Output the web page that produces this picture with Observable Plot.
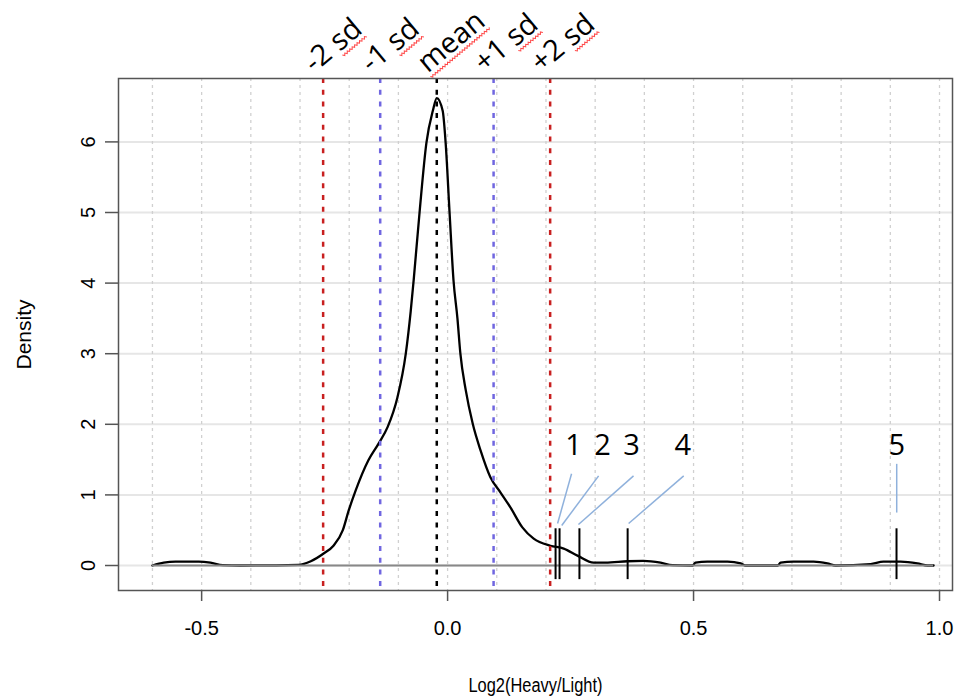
<!DOCTYPE html>
<html><head><meta charset="utf-8">
<script src="https://cdn.jsdelivr.net/npm/d3@7"></script>
<script src="https://cdn.jsdelivr.net/npm/@observablehq/plot@0.6"></script>
<style>body{margin:0;background:#fff}</style>
</head><body><div id="chart"></div>
<script>
// density curve
const curveX = [-0.600,-0.577,-0.553,-0.506,-0.482,-0.457,-0.421,-0.303,-0.278,-0.252,-0.232,-0.213,-0.201,-0.187,-0.161,-0.140,-0.122,-0.102,-0.085,-0.075,-0.069,-0.057,-0.043,-0.030,-0.022,-0.010,-0.004,0.004,0.012,0.020,0.026,0.037,0.051,0.067,0.087,0.108,0.128,0.152,0.175,0.209,0.236,0.264,0.297,0.321,0.366,0.398,0.433,0.457,0.498,0.504,0.528,0.569,0.596,0.606,0.671,0.677,0.703,0.744,0.772,0.789,0.860,0.886,0.921,0.955,0.976,0.988];
const curveY = [0,0.04,0.055,0.055,0.04,0.005,0,0.01,0.06,0.17,0.28,0.50,0.78,1.06,1.49,1.73,1.96,2.38,3.0,3.6,4.04,5.0,5.99,6.44,6.62,6.44,5.99,5.0,4.04,3.5,3.0,2.48,2.01,1.63,1.25,1.03,0.82,0.54,0.38,0.28,0.24,0.14,0.04,0.04,0.06,0.065,0.04,0.005,0,0.04,0.055,0.055,0.03,0,0,0.04,0.055,0.055,0.03,0,0.02,0.055,0.055,0.03,0,0];

// mean and sd reference lines
const refNames = ["-2 sd","-1 sd","mean","+1 sd","+2 sd"];
const refValues = [-0.253,-0.137,-0.022,0.0935,0.2085];
const refColors = ["#c82020","#7066e0","#000000","#7066e0","#c82020"];

// marked outliers
const spikeX = [0.2195,0.2276,0.268,0.366,0.9126];
const spikeLow = -0.2, spikeHigh = 0.52;
const labelNames = ["1","2","3","4","5"];
const labelX = [0.256,0.315,0.374,0.478,0.913];
const labelY = [1.69,1.69,1.69,1.69,1.69];
const leaderTopX = [0.252,0.307,0.378,0.480,0.913];
const leaderTopY = [1.30,1.27,1.27,1.27,1.44];
const leaderEndX = [0.2236,0.232,0.266,0.368,0.913];
const leaderEndY = [0.595,0.567,0.58,0.595,0.75];

const xTicks = [-0.5,0,0.5,1.0];
const yTicks = [0,1,2,3,4,5,6];
const xGrid = d3.range(-6,11).map(d => d/10);
const xTitle = "Log2(Heavy/Light)";
const yTitle = "Density";

const curve = curveX.map((x,i) => ({x, y: curveY[i]}));
const refs = refNames.map((n,i) => ({name:n, x:refValues[i], color:refColors[i]}));
const labels = labelNames.map((n,i) => ({name:n, x:labelX[i], y:labelY[i]}));
const leaders = leaderTopX.map((x,i) => ({x1:x, y1:leaderTopY[i], x2:leaderEndX[i], y2:leaderEndY[i]}));

const axisFont = "Liberation Sans, Arial, sans-serif";
const noteFont = "Open Sans, sans-serif";

const chart = Plot.plot({
  width: 955, height: 700,
  marginLeft: 118, marginRight: 3, marginTop: 78, marginBottom: 110,
  x: {domain: [-0.669, 1.0264]},
  y: {domain: [-0.354, 6.898]},
  style: {fontFamily: axisFont, background: "#fff"},
  marks: [
    Plot.ruleY(yTicks, {stroke: "#e6e6e6", strokeWidth: 2}),
    Plot.ruleX(xGrid, {stroke: "#d0d0d0", strokeWidth: 1.3, strokeDasharray: "3,4"}),
    Plot.line(curve, {x: "x", y: "y", stroke: "black", strokeWidth: 2.3, curve: "monotone-x"}),
    Plot.ruleY([0], {x1: d3.min(curveX), x2: d3.max(curveX), stroke: "#888", strokeWidth: 2}),
    Plot.ruleX(refs, {x: "x", stroke: "color", strokeWidth: 2.5, strokeDasharray: "5,6.7"}),
    Plot.ruleX(spikeX, {x: d => d, y1: spikeLow, y2: spikeHigh, stroke: "black", strokeWidth: 2}),
    Plot.link(leaders, {x1: "x1", y1: "y1", x2: "x2", y2: "y2", stroke: "#8fb1dc", strokeWidth: 1.5}),
    Plot.text(labels, {x: "x", y: "y", text: "name", fontSize: 29, fontFamily: noteFont, fill: "black", lineAnchor: "middle"}),
    Plot.text(refs, {x: "x", text: "name", frameAnchor: "top", textAnchor: "start", lineAnchor: "bottom", rotate: -40, dx: -9, dy: -5, fontSize: 29, fontFamily: noteFont, fill: "black"}),
    Plot.frame({stroke: "#555", strokeWidth: 1.5}),
    Plot.axisX({ticks: xTicks, tickSize: 11, tickPadding: 19, tickFormat: d => d.toFixed(1), fontSize: 20, stroke: "#555", strokeWidth: 1.5, fill: "black", label: null}),
    Plot.axisY({ticks: yTicks, tickSize: 13, tickFormat: () => "", stroke: "#555", strokeWidth: 1.5, label: null}),
    Plot.text(yTicks, {y: d => d, text: d => String(d), frameAnchor: "left", dx: -30, rotate: -90, fontSize: 20, fill: "black", textAnchor: "middle", lineAnchor: "middle"}),
    Plot.text([xTitle], {frameAnchor: "bottom", text: d => d, dy: 95, fontSize: 20, fill: "black", textAnchor: "middle", lineAnchor: "middle"}),
    Plot.text([yTitle], {frameAnchor: "left", text: d => d, dx: -94, rotate: -90, fontSize: 21, fill: "black", textAnchor: "middle", lineAnchor: "middle"})
  ]
});
document.getElementById("chart").appendChild(chart);

// the x title is narrow in the reference
d3.select(chart).selectAll("text").filter(function(){ return this.textContent === xTitle; })
  .attr("textLength", 134).attr("lengthAdjust", "spacingAndGlyphs");

// red squiggly underline under the flagged words of the reference-line labels
d3.select(chart).selectAll("text").filter(function(){ return refNames.includes(this.textContent); })
  .each(function(){
    const t = this.textContent;
    const i = t.lastIndexOf(" ");
    const start = i + 1, end = t.length - 1;
    const p0 = this.getStartPositionOfChar(start);
    const p1 = this.getEndPositionOfChar(end);
    const base = p0.y + 4;
    let d = `M${p0.x},${base}`;
    let k = 0;
    for (let x = p0.x + 1.6; x <= p1.x + 0.1; x += 1.6) { d += ` L${x},${base + (k % 2 ? 0 : 2)}`; k++; }
    d3.select(this.parentNode).append("path")
      .attr("transform", this.getAttribute("transform"))
      .attr("d", d).attr("fill", "none").attr("stroke", "#ff4a4a").attr("stroke-width", 1);
  });
</script></body></html>
